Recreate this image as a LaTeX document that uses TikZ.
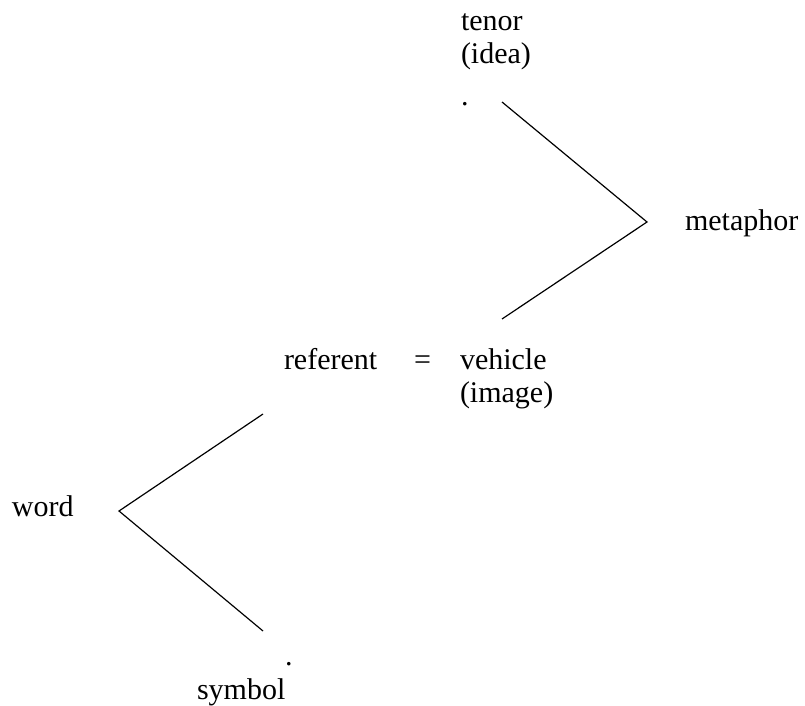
\documentclass[tikz,border=0pt]{standalone}
\usepackage{fontspec}
\setmainfont{Liberation Serif}
\begin{document}
\begin{tikzpicture}[x=1pt,y=-1pt,
  lbl/.style={anchor=base west,inner sep=0pt,outer sep=0pt,font=\fontsize{30}{34}\selectfont},
  conn/.style={draw=black,line width=1.2pt}]
\useasboundingbox (0,0) rectangle (805,706);
% texts
\node[lbl] (tenor) at (461,31) {tenor};
\node[lbl] (idea) at (461,64) {(idea)};
\node[lbl] (tdot) at (461,106) {.};
\node[lbl] (metaphor) at (685,230) {metaphor};
\node[lbl] (referent) at (284,369) {referent};
\node[lbl] (eq) at (414,369) {=};
\node[lbl] (vehicle) at (460,369) {vehicle};
\node[lbl] (image) at (460,402) {(image)};
\node[lbl] (word) at (12,516) {word};
\node[lbl] (sdot) at (285,665) {.};
\node[lbl] (symbol) at (197,699) {symbol};
% connector points
\coordinate (ua) at (502,102);
\coordinate (uv) at (647,222);
\coordinate (ub) at (502,319);
\coordinate (la) at (263,414);
\coordinate (lv) at (119,511);
\coordinate (lb) at (263,631);
\draw[conn] (ua) -- (uv) -- (ub);
\draw[conn] (la) -- (lv) -- (lb);
\end{tikzpicture}
\end{document}
